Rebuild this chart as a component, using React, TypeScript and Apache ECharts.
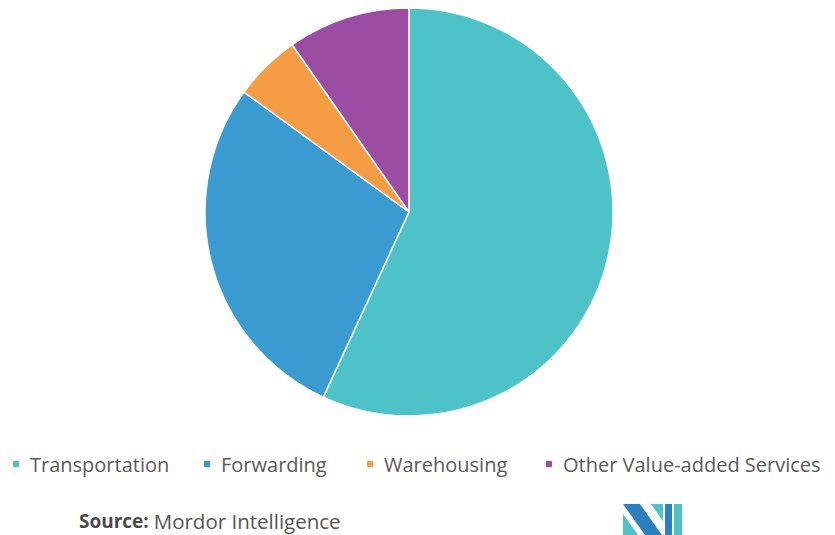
import React, { useEffect, useRef } from "react";
import * as echarts from "echarts";

const categories = ["Transportation", "Forwarding", "Warehousing", "Other Value-added Services"];
const shares = [56.9, 28.1, 5.3, 9.7];
const colors = ["#4EC3C7", "#3A9BD1", "#F59C45", "#9A4DA3"];
const legendLeft = [11, 202, 365, 544];

echarts.graphic.registerShape(
  "miLogoA",
  echarts.graphic.extendPath("M0 0 L17 0 L39 31 L22 31 Z", {})
);

export default function App() {
  const ref = useRef<HTMLDivElement>(null);
  useEffect(() => {
    const chart = echarts.init(ref.current!, null, { renderer: "svg" });
    chart.setOption({
      animation: false,
      backgroundColor: "#ffffff",
      legend: categories.map((c, i) => ({
        data: [c],
        left: legendLeft[i],
        top: 454,
        padding: 0,
        icon: "rect",
        itemWidth: 8,
        itemHeight: 8,
        itemGap: 0,
        selectedMode: false,
        textStyle: {
          fontFamily: "Open Sans",
          fontSize: 20,
          color: "#5a5a5a",
          padding: [0, 0, 0, 5],
        },
      })),
      series: [
        {
          type: "pie",
          center: [409, 212],
          radius: [0, 204],
          startAngle: 90,
          clockwise: true,
          label: { show: false },
          labelLine: { show: false },
          itemStyle: { borderColor: "#ffffff", borderWidth: 1.5 },
          data: categories.map((c, i) => ({
            name: c,
            value: shares[i],
            itemStyle: { color: colors[i] },
          })),
        },
      ],
      graphic: [
        {
          type: "text",
          left: 79,
          top: 510,
          style: {
            text: "{b|Source:} {n|Mordor Intelligence}",
            rich: {
              b: { fontWeight: "bold", fontFamily: "Open Sans", fontSize: 19, fill: "#4a4a4a" },
              n: { fontFamily: "Open Sans", fontSize: 20.5, fill: "#555555" },
            },
            font: "19px 'Open Sans'",
            fill: "#4a4a4a",
          },
        },
        {
          type: "group",
          x: 623,
          y: 504,
          children: [
            { type: "polygon", shape: { points: [[0, 10], [0, 31], [15, 31]] }, style: { fill: "#4EC3C7" } },
            { type: "miLogoA", x: 0, y: 0, style: { fill: "#2A7FBF" } },
            { type: "polygon", shape: { points: [[28, 0], [40, 0], [40, 17]] }, style: { fill: "#4EC3C7" } },
            { type: "polygon", shape: { points: [[42, 0], [49, 0], [49, 31], [42, 31]] }, style: { fill: "#2A7FBF" } },
            { type: "polygon", shape: { points: [[51, 0], [59, 0], [59, 31], [51, 31]] }, style: { fill: "#4EC3C7" } },
          ],
        },
      ],
    });
    return () => chart.dispose();
  }, []);
  return (
    <div
      ref={ref}
      style={{ position: "fixed", left: 0, top: 0, width: 835, height: 535 }}
    />
  );
}
